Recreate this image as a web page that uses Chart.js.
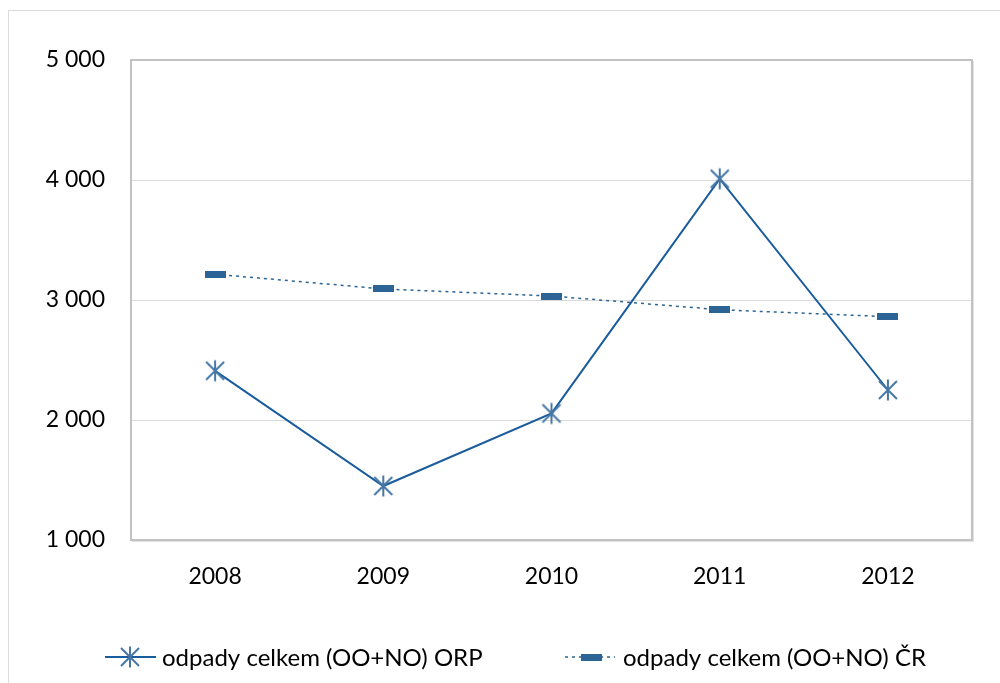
<!DOCTYPE html>
<html>
<head>
<meta charset="utf-8">
<script src="https://cdn.jsdelivr.net/npm/chart.js@4/dist/chart.umd.min.js"></script>
<style>
  html, body { margin: 0; padding: 0; background: #fff; }
  #wrap { width: 1000px; height: 683px; }
</style>
</head>
<body>
<div id="wrap"><canvas id="odpadyChart"></canvas></div>
<script>
const years = ['2008', '2009', '2010', '2011', '2012'];
const orpValues = [2410, 1450, 2055, 4010, 2250];
const crValues = [3215, 3092, 3033, 2919, 2861];
const yTicks = [1000, 2000, 3000, 4000, 5000];
const seriesNames = ['odpady celkem (OO+NO) ORP', 'odpady celkem (OO+NO) ČR'];

const FONT = 'Lato, "Liberation Sans", sans-serif';
const lineBlue = '#1a5c9c';
const markBlue = '#4677a6';
const dashBlue = '#2c6595';

// asterisk marker: X plus vertical bar
const makeStar = () => {
    const c = document.createElement('canvas');
    c.width = 26; c.height = 26;
    const g = c.getContext('2d');
    g.strokeStyle = markBlue;
    g.lineWidth = 2;
    g.beginPath();
    g.moveTo(4, 4); g.lineTo(22, 22);
    g.moveTo(22, 4); g.lineTo(4, 22);
    g.moveTo(13, 2.5); g.lineTo(13, 23.5);
    g.stroke();
    return c;
};

// flat bar marker
const makeBar = (w, h) => {
    const c = document.createElement('canvas');
    c.width = w; c.height = h;
    const g = c.getContext('2d');
    g.fillStyle = dashBlue;
    g.fillRect(0, 0, w, h);
    return c;
};

const starImg = makeStar();
const barImg = makeBar(21, 7);

const fmt = v => String(v).replace(/\B(?=(\d{3})+(?!\d))/g, ' ');

const framePlugin = {
    id: 'frame',
    beforeDraw(chart) {
        const ctx = chart.ctx;
        ctx.save();
        ctx.strokeStyle = '#dcdcdc';
        ctx.lineWidth = 1;
        ctx.strokeRect(8.5, 10.5, 1200, 1000);
        ctx.restore();
    },
    beforeDatasetsDraw(chart) {
        const { ctx, chartArea: a } = chart;
        ctx.save();
        ctx.strokeStyle = '#e2e2e2';
        ctx.lineWidth = 1;
        ctx.beginPath();
        ctx.moveTo(a.right + 1.5, a.top + 1);
        ctx.lineTo(a.right + 1.5, a.bottom + 1.5);
        ctx.lineTo(a.left + 1, a.bottom + 1.5);
        ctx.stroke();
        ctx.strokeStyle = '#c2c2c2';
        ctx.lineWidth = 2;
        ctx.strokeRect(a.left, a.top, a.right - a.left, a.bottom - a.top);
        ctx.restore();
    }
};

// legend row under the plot: line + marker sample, then the series name
const legendPlugin = {
    id: 'bottomLegend',
    afterDraw(chart) {
        const ctx = chart.ctx;
        const y = 657;
        ctx.save();
        ctx.font = '24px ' + FONT;
        ctx.fillStyle = '#000';
        ctx.textBaseline = 'middle';

        // ORP
        ctx.strokeStyle = lineBlue;
        ctx.lineWidth = 2;
        ctx.beginPath();
        ctx.moveTo(105, y); ctx.lineTo(156, y);
        ctx.stroke();
        ctx.drawImage(starImg, 130 - 13, y - 13);
        ctx.fillText(chart.data.datasets[0].label, 162, y + 1);

        // ČR
        ctx.strokeStyle = dashBlue;
        ctx.lineWidth = 1.5;
        ctx.setLineDash([3, 4]);
        ctx.beginPath();
        ctx.moveTo(565, y); ctx.lineTo(615, y);
        ctx.stroke();
        ctx.setLineDash([]);
        ctx.drawImage(barImg, 581, y - 3.5);
        ctx.fillText(chart.data.datasets[1].label, 623, y + 1);
        ctx.restore();
    }
};

const ctx = document.getElementById('odpadyChart').getContext('2d');
window.odpadyChart = new Chart(ctx, {
    type: 'line',
    data: {
        labels: years,
        datasets: [
            {
                label: seriesNames[0],
                data: orpValues,
                borderColor: lineBlue,
                borderWidth: 2,
                pointStyle: starImg,
                pointRadius: 10,
                tension: 0,
                fill: false
            },
            {
                label: seriesNames[1],
                data: crValues,
                borderColor: dashBlue,
                borderWidth: 1.5,
                borderDash: [3, 4],
                pointStyle: barImg,
                pointRadius: 10,
                tension: 0,
                fill: false
            }
        ]
    },
    options: {
        responsive: true,
        maintainAspectRatio: false,
        animation: false,
        layout: { padding: { left: 0, top: 60, right: 28, bottom: 0 } },
        plugins: {
            legend: { display: false },
            title: { display: false },
            tooltip: { enabled: false }
        },
        scales: {
            x: {
                offset: true,
                grid: { display: false, drawTicks: false },
                border: { display: false },
                ticks: {
                    padding: 23,
                    color: '#000',
                    font: { family: FONT, size: 23 }
                },
                afterFit: s => { s.height = 143; }
            },
            y: {
                min: 1000,
                max: 5000,
                afterBuildTicks: s => { s.ticks = yTicks.map(v => ({ value: v })); },
                grid: { color: '#d9d9d9', lineWidth: 1, drawTicks: false },
                border: { display: false },
                ticks: {
                    padding: 26,
                    color: '#000',
                    font: { family: FONT, size: 23 },
                    callback: v => fmt(v)
                },
                afterFit: s => { s.width = 131; }
            }
        }
    },
    plugins: [framePlugin, legendPlugin]
});
</script>
</body>
</html>
